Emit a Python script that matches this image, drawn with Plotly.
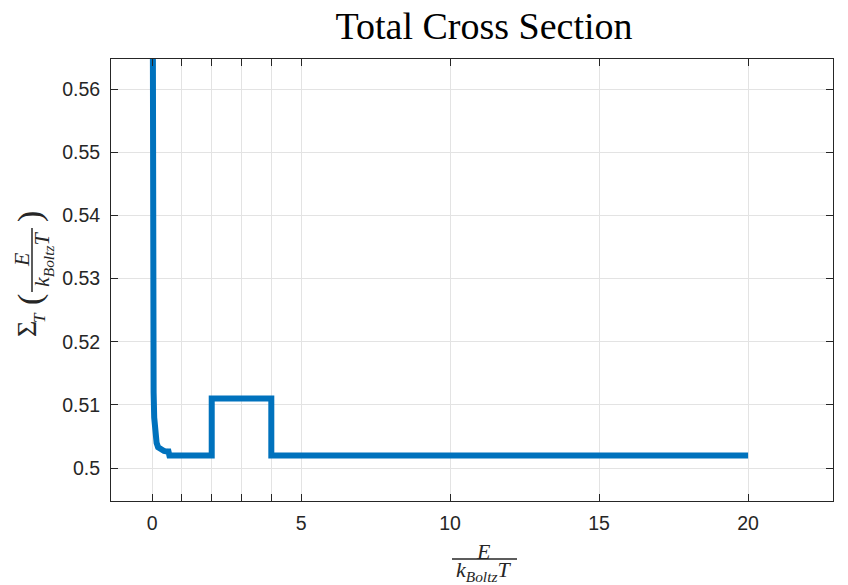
import plotly.graph_objects as go

# Data
energy = [0.001, 0.005, 0.01, 0.02, 0.03, 0.05, 0.07, 0.1, 0.15, 0.2, 0.3, 0.4, 0.5, 0.55, 0.58,
          2.0, 2.0, 4.0, 4.0, 20.0]
sigma = [0.62, 0.575, 0.55, 0.53, 0.52, 0.512, 0.508, 0.5055, 0.504, 0.5033, 0.5029, 0.5027, 0.5026, 0.5026, 0.502,
         0.502, 0.511, 0.511, 0.502, 0.502]

x_tickvals = [0, 1, 2, 3, 4, 5, 10, 15, 20]
x_ticktext = ["0", "", "", "", "", "5", "10", "15", "20"]
y_tickvals = [0.50, 0.51, 0.52, 0.53, 0.54, 0.55, 0.56]
y_ticktext = ["0.5", "0.51", "0.52", "0.53", "0.54", "0.55", "0.56"]

# page has an 8px body margin; figure drawn at offset (8, 8)
OFF = 8
W, H = 848 - OFF, 585 - OFF
L_REF, T_REF, B_REF = 111, 59, 501   # plot area edges in screen pixels
R_REF = 833
L = L_REF - OFF
T = T_REF - OFF
PW = R_REF - L_REF
PH = B_REF - T_REF
R = W - L - PW
B = H - T - PH


def px(xp):
    return (xp - L_REF) / PW


def py(yp):
    return (B_REF - yp) / PH


AX = "#262626"
GRID = "#e3e3e3"
TICKFONT = dict(family="Liberation Sans, Arial, sans-serif", size=19.5, color=AX)
SERIF = "Liberation Serif, Times New Roman, serif"

fig = go.Figure()
fig.add_trace(go.Scatter(x=energy, y=sigma, mode="lines",
                         line=dict(color="#0072BD", width=6), showlegend=False))

fig.update_layout(
    width=W, height=H,
    margin=dict(l=L, r=R, t=T, b=B),
    paper_bgcolor="white", plot_bgcolor="white",
    title=dict(text="Total Cross Section", xref="container", x=(484 - OFF) / W, xanchor="center",
               yref="container", y=1 - (26 - OFF) / H, yanchor="middle",
               font=dict(family=SERIF, size=38, color="black")),
)
fig.update_xaxes(range=[-1.38, 22.85], tickvals=x_tickvals, ticktext=x_ticktext,
                 showline=True, linecolor=AX, linewidth=1, mirror="ticks",
                 ticks="inside", ticklen=7, tickcolor=AX, tickwidth=1,
                 showgrid=True, gridcolor=GRID, gridwidth=1, zeroline=False,
                 tickfont=TICKFONT, ticklabelstandoff=5)
fig.update_yaxes(range=[0.49478, 0.56475], tickvals=y_tickvals, ticktext=y_ticktext,
                 showline=True, linecolor=AX, linewidth=1, mirror="ticks",
                 ticks="inside", ticklen=7, tickcolor=AX, tickwidth=1,
                 showgrid=True, gridcolor=GRID, gridwidth=1, zeroline=False,
                 tickfont=TICKFONT, ticklabelstandoff=6)

lab = dict(family=SERIF, size=22, color=AX)


def note(text, xp, yp, font, angle=0):
    return dict(text=text, x=px(xp), y=py(yp), xref="paper", yref="paper",
                showarrow=False, font=font, textangle=angle,
                xanchor="center", yanchor="middle")


ann = [
    # x-axis label: fraction E / (k_Boltz T)
    note("<i>E</i>", 484, 551, lab),
    note("<i>k</i><sub><i>Boltz</i></sub><i>T</i>", 484, 571, lab),
    # y-axis label pieces (rotated)
    note("Σ", 26, 329, dict(family=SERIF, size=28, color=AX), -90),
    note("<i>T</i>", 39, 318, dict(family=SERIF, size=17, color=AX), -90),
    note("(", 30, 300, dict(family=SERIF, size=34, color=AX), -90),
    note("<i>E</i>", 21, 260, lab, -90),
    note("<i>k</i><sub><i>Boltz</i></sub><i>T</i>", 43, 260, lab, -90),
    note(")", 30, 217, dict(family=SERIF, size=34, color=AX), -90),
]
fig.update_layout(annotations=ann)

fig.add_shape(type="line", xref="paper", yref="paper",
              x0=px(452), x1=px(517), y0=py(559), y1=py(559),
              line=dict(color=AX, width=1.5))
fig.add_shape(type="line", xref="paper", yref="paper",
              x0=px(32), x1=px(32), y0=py(228), y1=py(292),
              line=dict(color=AX, width=1.5))

fig.write_html("out.html")
